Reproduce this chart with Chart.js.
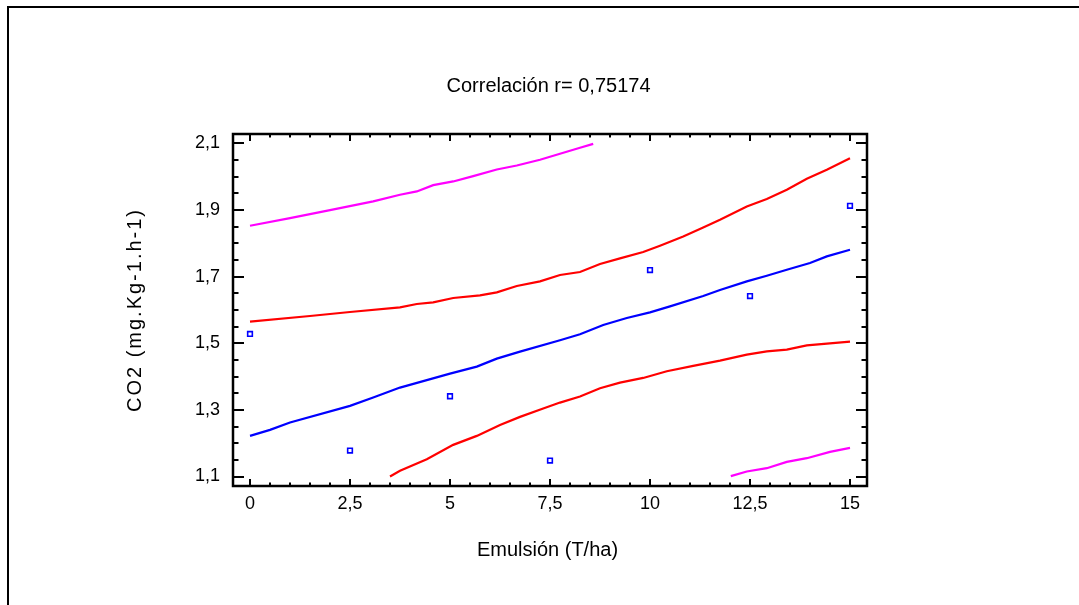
<!DOCTYPE html>
<html>
<head>
<meta charset="utf-8">
<script src="https://cdn.jsdelivr.net/npm/chart.js@4.4.1/dist/chart.umd.min.js"></script>
<style>
  html, body { margin: 0; padding: 0; background: #fff; overflow: hidden; }
  #wrap { position: relative; width: 1079px; height: 605px; }
  #frame {
    position: absolute; left: 7px; top: 6px; width: 1200px; height: 800px;
    border-left: 2px solid #000; border-top: 2px solid #000; pointer-events: none;
  }
</style>
</head>
<body>
<div id="wrap">
  <canvas id="chart" width="1079" height="605"></canvas>
  <div id="frame"></div>
</div>
<script>
// Observed values (blue squares)
const obsX = [0, 2.5, 5, 7.5, 10, 12.5, 15];
const obsY = [1.528, 1.178, 1.341, 1.148, 1.720, 1.642, 1.913];

// Fitted line (blue)
const fitX = [0, 0.5, 1, 2.5, 3.08, 3.75, 5, 5.67, 6.17, 6.75, 7.75, 8.25, 8.83, 9.42, 10, 10.5, 11.33, 11.75, 12.42, 12.92, 13.42, 14, 14.42, 15];
const fitY = [1.222, 1.240, 1.262, 1.312, 1.337, 1.367, 1.409, 1.430, 1.454, 1.475, 1.509, 1.527, 1.555, 1.576, 1.593, 1.611, 1.642, 1.660, 1.686, 1.703, 1.721, 1.741, 1.761, 1.781];

// Confidence limits (red)
const confUpX = [0, 1.5, 2.5, 3.75, 4.17, 4.58, 5.08, 5.75, 6.17, 6.67, 7.25, 7.75, 8.25, 8.75, 9.25, 9.83, 10.25, 10.83, 11.33, 11.75, 12.42, 12.92, 13.42, 13.92, 14.42, 15];
const confUpY = [1.565, 1.582, 1.594, 1.608, 1.618, 1.623, 1.636, 1.644, 1.653, 1.672, 1.686, 1.705, 1.714, 1.738, 1.755, 1.774, 1.793, 1.821, 1.848, 1.871, 1.911, 1.933, 1.961, 1.994, 2.021, 2.056];
const confLoX = [3.5, 3.75, 4.42, 5.08, 5.67, 6.25, 6.75, 7.33, 7.75, 8.25, 8.75, 9.25, 9.83, 10.42, 11.08, 11.75, 12.42, 12.92, 13.42, 13.92, 15];
const confLoY = [1.100, 1.117, 1.152, 1.195, 1.222, 1.255, 1.279, 1.304, 1.322, 1.340, 1.365, 1.382, 1.396, 1.416, 1.432, 1.448, 1.466, 1.476, 1.481, 1.494, 1.505];

// Prediction limits (magenta)
const predUpX = [0, 1, 2, 3.08, 3.75, 4.17, 4.58, 5.08, 5.58, 6.17, 6.67, 7.25, 7.75, 8.25, 8.58];
const predUpY = [1.853, 1.876, 1.900, 1.926, 1.946, 1.956, 1.975, 1.986, 2.002, 2.022, 2.034, 2.051, 2.069, 2.087, 2.099];
const predLoX = [12.02, 12.42, 12.92, 13.42, 13.92, 14.5, 15];
const predLoY = [1.101, 1.115, 1.125, 1.144, 1.155, 1.174, 1.186];

// Axis ticks
const xTicks = [0, 2.5, 5, 7.5, 10, 12.5, 15];
const xTickLabels = ['0', '2,5', '5', '7,5', '10', '12,5', '15'];
const yTicks = [1.1, 1.3, 1.5, 1.7, 1.9, 2.1];
const yTickLabels = ['1,1', '1,3', '1,5', '1,7', '1,9', '2,1'];

const titleText = 'Correlación r= 0,75174';
const xTitle = 'Emulsión (T/ha)';
const yTitle = 'CO2 (mg.Kg-1.h-1)';

const FONT = '"Liberation Sans", Arial, sans-serif';

function pts(xs, ys) {
  return xs.map((x, i) => ({ x: x, y: ys[i] }));
}

function lineSet(xs, ys, color) {
  return {
    data: pts(xs, ys),
    showLine: true,
    borderColor: color,
    borderWidth: 2.2,
    pointRadius: 0,
    fill: false,
    tension: 0
  };
}

// Box frame with inward ticks on all four sides, plus the titles
const axisBox = {
  id: 'axisBox',
  afterDraw(chart) {
    const ctx = chart.ctx;
    const { left, right, top, bottom } = chart.chartArea;
    const xs = chart.scales.x;
    const ys = chart.scales.y;
    ctx.save();
    ctx.strokeStyle = '#000';
    ctx.lineWidth = 2;
    ctx.beginPath();
    // x ticks: major every 2.5, minor every 0.5
    for (let v = 0; v <= 15.001; v += 0.5) {
      const px = Math.round(xs.getPixelForValue(v));
      const major = xTicks.some(t => Math.abs(t - v) < 1e-6);
      const len = major ? 7 : 3.5;
      ctx.moveTo(px, bottom); ctx.lineTo(px, bottom - len);
      ctx.moveTo(px, top); ctx.lineTo(px, top + len);
    }
    // y ticks: major every 0.2, minor every 0.05
    for (let v = 1.1; v <= 2.1001; v += 0.05) {
      const py = Math.round(ys.getPixelForValue(v));
      const major = yTicks.some(t => Math.abs(t - v) < 1e-6);
      const len = major ? 11 : 5.5;
      ctx.moveTo(left, py); ctx.lineTo(left + len, py);
      ctx.moveTo(right, py); ctx.lineTo(right - len, py);
    }
    ctx.stroke();
    ctx.lineWidth = 2.5;
    ctx.strokeRect(left, top, right - left, bottom - top);

    // titles
    ctx.fillStyle = '#000';
    ctx.font = '20px ' + FONT;
    ctx.textAlign = 'center';
    ctx.textBaseline = 'alphabetic';
    ctx.fillText(titleText, 548.5, 92);
    ctx.fillText(xTitle, 547.5, 556);
    ctx.translate(141, 310);
    ctx.rotate(-Math.PI / 2);
    ctx.letterSpacing = '2px';
    ctx.fillText(yTitle, 0, 0);
    ctx.restore();
  }
};

new Chart(document.getElementById('chart'), {
  type: 'scatter',
  data: {
    datasets: [
      lineSet(predUpX, predUpY, '#ff00ff'),
      lineSet(predLoX, predLoY, '#ff00ff'),
      lineSet(confUpX, confUpY, '#ff0000'),
      lineSet(confLoX, confLoY, '#ff0000'),
      lineSet(fitX, fitY, '#0000ff'),
      {
        data: pts(obsX, obsY),
        pointStyle: 'rect',
        pointRadius: 3.3,
        borderColor: '#0000ff',
        backgroundColor: '#ffffff',
        borderWidth: 1.6,
        showLine: false
      }
    ]
  },
  options: {
    responsive: false,
    animation: false,
    devicePixelRatio: 1,
    layout: { padding: { left: 0, right: 212, top: 134, bottom: 0 } },
    plugins: {
      legend: { display: false },
      title: { display: false },
      tooltip: { enabled: false }
    },
    scales: {
      x: {
        type: 'linear',
        min: -0.425,
        max: 15.425,
        grid: { display: false, drawTicks: false },
        border: { display: false },
        afterFit(scale) { scale.height = 119; },
        afterBuildTicks(scale) { scale.ticks = xTicks.map(v => ({ value: v })); },
        ticks: {
          padding: 7,
          color: '#000',
          font: { family: FONT, size: 18 },
          callback: (v) => xTickLabels[xTicks.indexOf(v)]
        }
      },
      y: {
        type: 'linear',
        min: 1.0715,
        max: 2.1285,
        grid: { display: false, drawTicks: false },
        border: { display: false },
        afterFit(scale) { scale.width = 233; },
        afterBuildTicks(scale) { scale.ticks = yTicks.map(v => ({ value: v })); },
        ticks: {
          padding: 13,
          color: '#000',
          font: { family: FONT, size: 18 },
          callback: (v) => yTickLabels[yTicks.findIndex(t => Math.abs(t - v) < 1e-6)]
        }
      }
    }
  },
  plugins: [axisBox]
});
</script>
</body>
</html>
